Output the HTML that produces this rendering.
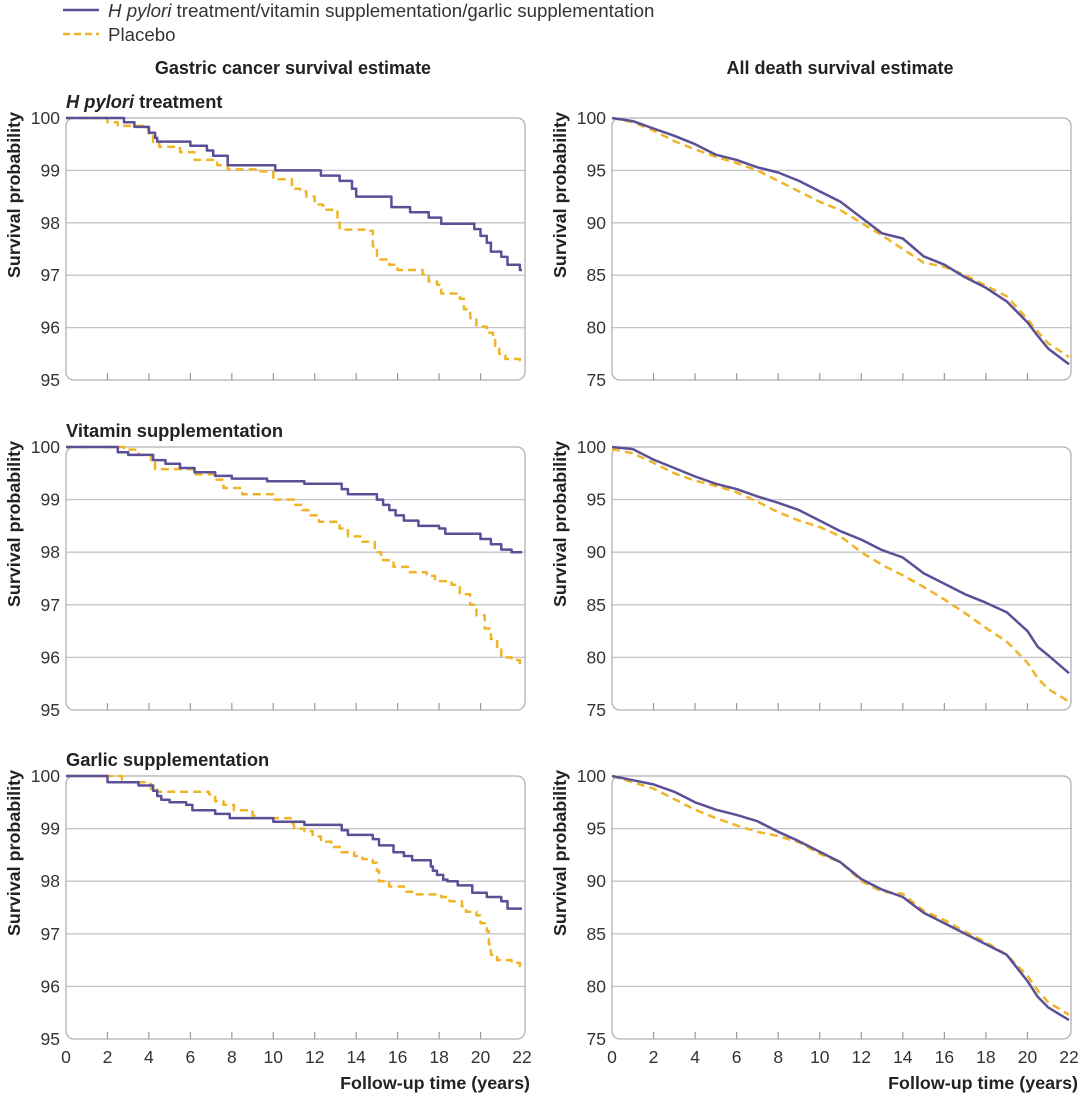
<!DOCTYPE html>
<html><head><meta charset="utf-8">
<style>
html,body{margin:0;padding:0;background:#fff;}
svg{display:block;font-family:"Liberation Sans",sans-serif;}
</style></head>
<body>
<svg id="chart" width="1080" height="1095" viewBox="0 0 1080 1095">
  <g>
    <line x1="63" y1="10" x2="99" y2="10" stroke="#5b4f96" stroke-width="2.5"/>
    <text x="108" y="17" font-size="18.7" fill="#333"><tspan font-style="italic">H pylori</tspan> treatment/vitamin supplementation/garlic supplementation</text>
    <line x1="63" y1="34" x2="99" y2="34" stroke="#f0b429" stroke-width="2.5" stroke-dasharray="7,4"/>
    <text x="108" y="41" font-size="18.7" fill="#333">Placebo</text>
  </g>
  <text x="293" y="74" font-size="18" font-weight="bold" fill="#222" text-anchor="middle">Gastric cancer survival estimate</text>
  <text x="840" y="74" font-size="18" font-weight="bold" fill="#222" text-anchor="middle">All death survival estimate</text>
  <text x="66" y="108" font-size="18.3" font-weight="bold" fill="#222"><tspan font-style="italic">H pylori</tspan> treatment</text>
  <text x="66" y="437" font-size="18.3" font-weight="bold" fill="#222">Vitamin supplementation</text>
  <text x="66" y="766" font-size="18.3" font-weight="bold" fill="#222">Garlic supplementation</text>
  <text x="530" y="1089" font-size="17.9" font-weight="bold" fill="#222" text-anchor="end">Follow-up time (years)</text>
  <text x="1078" y="1089" font-size="17.9" font-weight="bold" fill="#222" text-anchor="end">Follow-up time (years)</text>
</svg>
<script>
// ---- data ----
const xTicks = [0,2,4,6,8,10,12,14,16,18,20,22];
const gastricTicks = [95,96,97,98,99,100];
const deathTicks = [75,80,85,90,95,100];

const hpGastricTreatT = [0,2.8,3.3,4.0,4.3,4.4,6.0,6.8,7.1,7.8,10.1,12.3,13.2,13.8,14.0,15.7,16.6,17.5,18.1,19.7,20.0,20.3,20.5,21.0,21.3,21.9];
const hpGastricTreatV = [100,99.92,99.83,99.72,99.62,99.55,99.47,99.38,99.28,99.1,99.0,98.9,98.8,98.65,98.5,98.3,98.2,98.1,97.98,97.88,97.75,97.62,97.45,97.35,97.2,97.1];
const hpGastricPlacT = [0,2.0,2.5,3.7,4.0,4.2,4.5,5.5,6.2,7.3,7.8,9.2,10.0,10.9,11.3,11.6,12.0,12.4,13.1,13.2,14.6,14.8,15.0,15.6,16.0,17.2,17.5,17.9,18.1,19.0,19.2,19.5,19.8,20.3,20.6,20.7,20.9,21.2,21.9];
const hpGastricPlacV = [100,99.92,99.85,99.8,99.7,99.52,99.45,99.35,99.2,99.1,99.02,98.98,98.83,98.65,98.6,98.5,98.35,98.25,98.05,97.87,97.85,97.55,97.3,97.2,97.1,97.02,96.88,96.82,96.65,96.55,96.35,96.18,96.02,95.9,95.8,95.65,95.5,95.4,95.38];

const vitGastricTreatT = [0,2.5,3.0,4.2,4.8,5.5,6.2,7.2,8.0,9.7,11.5,13.3,13.6,15.0,15.3,15.6,15.9,16.3,17.0,18.0,18.3,20.0,20.5,21.0,21.5];
const vitGastricTreatV = [100,99.9,99.85,99.75,99.68,99.6,99.52,99.45,99.4,99.35,99.3,99.2,99.1,99.0,98.9,98.8,98.7,98.6,98.5,98.45,98.35,98.25,98.15,98.05,98.0];
const vitGastricPlacT = [0,2.8,3.5,4.1,4.3,6.2,7.2,7.6,8.5,10.0,11.0,11.4,11.7,12.2,13.2,13.6,14.2,14.9,15.2,15.8,16.5,17.4,17.8,18.6,19.0,19.5,19.8,20.2,20.5,20.8,21.0,21.5,21.9];
const vitGastricPlacV = [100,99.95,99.85,99.75,99.58,99.48,99.38,99.22,99.1,99.0,98.9,98.8,98.7,98.58,98.45,98.3,98.2,98.0,97.85,97.72,97.62,97.55,97.45,97.38,97.2,97.0,96.8,96.55,96.35,96.15,96.0,95.95,95.85];

const garGastricTreatT = [0,2.0,3.5,4.2,4.4,4.6,5.0,5.8,6.1,7.2,7.9,10.0,11.5,13.3,13.6,14.8,15.1,15.8,16.3,16.7,17.6,17.7,17.9,18.2,18.4,18.9,19.6,20.3,21.0,21.3];
const garGastricTreatV = [100,99.88,99.82,99.72,99.62,99.55,99.5,99.45,99.35,99.28,99.2,99.13,99.07,98.97,98.88,98.8,98.68,98.55,98.48,98.4,98.28,98.2,98.12,98.03,98.0,97.92,97.78,97.7,97.62,97.48];
const garGastricPlacT = [0,2.7,2.8,3.8,4.1,4.4,6.9,7.2,7.6,8.1,9.0,9.3,10.9,11.0,11.5,11.9,12.3,12.8,13.3,13.9,14.3,14.8,15.0,15.1,15.6,16.3,16.8,18.1,18.5,19.1,19.3,19.8,20.0,20.3,20.4,20.5,20.8,21.5,21.9];
const garGastricPlacV = [100,99.93,99.88,99.85,99.75,99.7,99.65,99.52,99.45,99.35,99.25,99.2,99.1,99.0,98.95,98.85,98.75,98.65,98.55,98.48,98.42,98.35,98.2,98.0,97.9,97.8,97.75,97.7,97.62,97.52,97.42,97.35,97.2,97.05,96.8,96.6,96.5,96.45,96.35];

const deathT = [0,1,2,3,4,5,6,7,8,9,10,11,12,13,14,15,16,17,18,19,20,20.5,21,22];
const hpDeathTreatV = [100,99.7,99.0,98.3,97.5,96.5,96.0,95.3,94.8,94.0,93.0,92.0,90.5,89.0,88.5,86.8,86.0,84.8,83.8,82.5,80.5,79.2,78.0,76.5];
const hpDeathPlacV = [100,99.6,98.8,97.8,97.0,96.3,95.7,95.0,94.0,93.0,92.0,91.2,90.0,88.8,87.5,86.2,85.8,85.0,84.0,83.0,80.8,79.6,78.5,77.2];
const vitDeathTreatV = [100,99.8,98.8,98.0,97.2,96.5,96.0,95.3,94.7,94.0,93.0,92.0,91.2,90.2,89.5,88.0,87.0,86.0,85.2,84.3,82.5,81.0,80.2,78.5];
const vitDeathPlacV = [99.8,99.4,98.5,97.5,96.8,96.3,95.7,94.8,93.8,93.0,92.4,91.5,90.0,88.8,87.8,86.7,85.5,84.2,82.8,81.5,79.5,78.0,77.0,75.8];
const garDeathTreatV = [100,99.6,99.2,98.5,97.5,96.8,96.3,95.7,94.7,93.8,92.8,91.8,90.2,89.2,88.5,87.0,86.0,85.0,84.0,83.0,80.5,79.0,78.0,76.8];
const garDeathPlacV = [100,99.4,98.8,97.8,96.8,96.0,95.3,94.7,94.3,93.7,92.6,91.8,90.0,89.0,88.8,87.2,86.3,85.2,84.2,83.0,81.0,79.6,78.5,77.3];

// ---- drawing ----
const NS = "http://www.w3.org/2000/svg";
const svg = document.getElementById('chart');
function mk(tag, attrs){const e=document.createElementNS(NS,tag);for(const k in attrs)e.setAttribute(k,attrs[k]);return e;}

const cols = [{x0:66,x1:522,right:525},{x0:612,x1:1069,right:1071}];
const rows = [{top:118,bot:380},{top:447,bot:710},{top:776,bot:1039}];
const BLUE="#5b4f96", GOLD="#f0b429";

function panel(ci, ri, ticks, series, step, pname){
  const c=cols[ci], r=rows[ri];
  const ymin=ticks[0], ymax=ticks[ticks.length-1];
  const xs=t=>c.x0+(t/22)*(c.x1-c.x0);
  const ys=v=>r.bot-(v-ymin)/(ymax-ymin)*(r.bot-r.top);
  const g=mk('g',{});
  
  
  svg.appendChild(g);
  ticks.forEach((tv,i)=>{
    const y=ys(tv);
    if(i>0 && i<ticks.length-1){
      const gl=mk('line',{x1:c.x0,x2:c.right,y1:y,y2:y,stroke:'#c4c4c8','stroke-width':1.3});
      
      
      g.appendChild(gl);
    }
    const tl=mk('text',{x:c.x0-6,y:y+6,'font-size':17.5,fill:'#333','text-anchor':'end'});
    tl.textContent=tv;
    
    
    g.appendChild(tl);
  });
  const box=mk('rect',{x:c.x0,y:r.top,width:c.right-c.x0,height:r.bot-r.top,rx:8,fill:'none',stroke:'#b0b0b4','stroke-width':1.3});
  
  
  g.appendChild(box);
  xTicks.forEach(t=>{
    if(t>0 && t<22){
      const tk=mk('line',{x1:xs(t),x2:xs(t),y1:r.bot,y2:r.bot-7,stroke:'#999','stroke-width':1.2});
      
      
      g.appendChild(tk);
    }
    if(ri===2){
      const xl=mk('text',{x:xs(t),y:r.bot+24,'font-size':17.5,fill:'#333','text-anchor':'middle'});
      xl.textContent=t;
      
      
      g.appendChild(xl);
    }
  });
  const yt=mk('text',{x:0,y:0,'font-size':17.9,'font-weight':'bold',fill:'#222','text-anchor':'middle',transform:`translate(${c.x0-46},${r.top+77}) rotate(-90)`});
  yt.textContent='Survival probability';
  
  
  g.appendChild(yt);
  series.forEach(s=>{
    let d='';
    for(let i=0;i<s.t.length;i++){
      const X=xs(s.t[i]).toFixed(1), Y=ys(s.v[i]).toFixed(1);
      if(i===0) d+=`M${X},${Y}`;
      else if(step) d+=`H${X}V${Y}`;
      else d+=`L${X},${Y}`;
    }
    if(step) d+=`H${xs(22).toFixed(1)}`;
    const p=mk('path',{d:d,fill:'none',stroke:s.color,'stroke-width':2.5,'stroke-linejoin':'round'});
    if(s.dash) p.setAttribute('stroke-dasharray','8,5');
    
    
    g.appendChild(p);
  });
}

panel(0,0,gastricTicks,[
  {t:hpGastricPlacT,v:hpGastricPlacV,color:GOLD,dash:true,name:'placebo-line'},
  {t:hpGastricTreatT,v:hpGastricTreatV,color:BLUE,name:'treatment-line'}],true,'hpylori-gastric');
panel(0,1,gastricTicks,[
  {t:vitGastricPlacT,v:vitGastricPlacV,color:GOLD,dash:true,name:'placebo-line'},
  {t:vitGastricTreatT,v:vitGastricTreatV,color:BLUE,name:'treatment-line'}],true,'vitamin-gastric');
panel(0,2,gastricTicks,[
  {t:garGastricPlacT,v:garGastricPlacV,color:GOLD,dash:true,name:'placebo-line'},
  {t:garGastricTreatT,v:garGastricTreatV,color:BLUE,name:'treatment-line'}],true,'garlic-gastric');
panel(1,0,deathTicks,[
  {t:deathT,v:hpDeathPlacV,color:GOLD,dash:true,name:'placebo-line'},
  {t:deathT,v:hpDeathTreatV,color:BLUE,name:'treatment-line'}],false,'hpylori-death');
panel(1,1,deathTicks,[
  {t:deathT,v:vitDeathPlacV,color:GOLD,dash:true,name:'placebo-line'},
  {t:deathT,v:vitDeathTreatV,color:BLUE,name:'treatment-line'}],false,'vitamin-death');
panel(1,2,deathTicks,[
  {t:deathT,v:garDeathPlacV,color:GOLD,dash:true,name:'placebo-line'},
  {t:deathT,v:garDeathTreatV,color:BLUE,name:'treatment-line'}],false,'garlic-death');
</script>
</body></html>
